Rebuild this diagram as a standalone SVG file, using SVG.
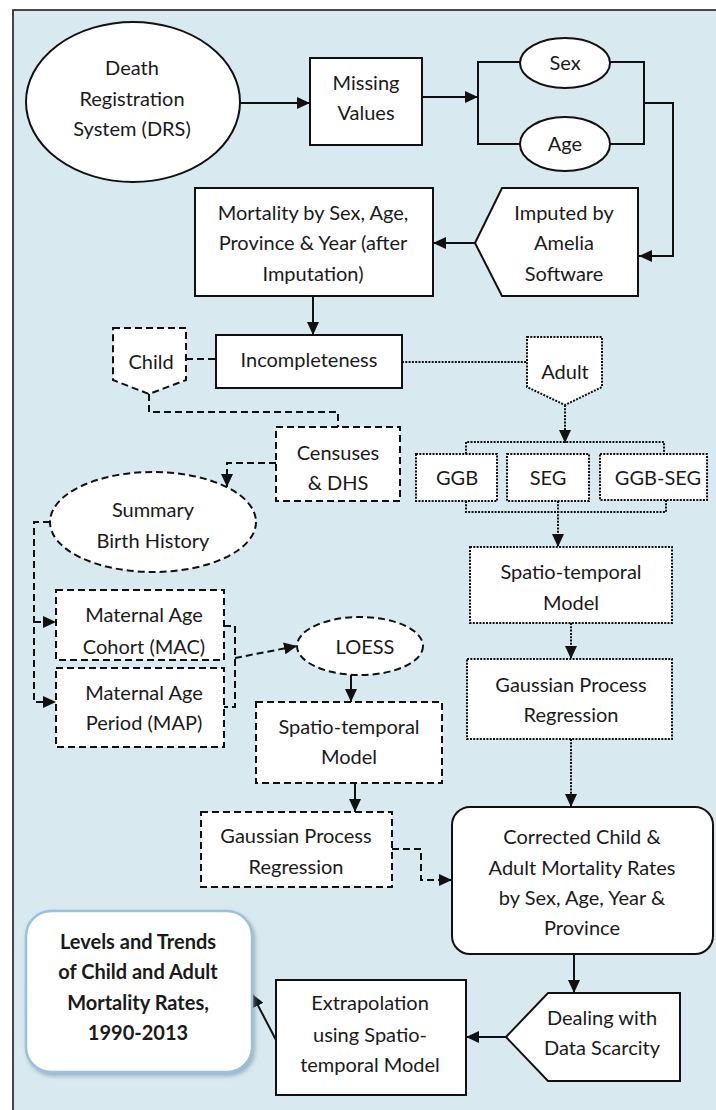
<svg xmlns="http://www.w3.org/2000/svg" width="716" height="1110" viewBox="0 0 716 1110">
<defs>
<style>
.bg{fill:#fff}
.frame{fill:#d9e9f0;stroke:#333;stroke-width:1.8}
.n{fill:#fff;stroke:#111;stroke-width:2}
.dash{stroke-dasharray:7,4}
.dot{stroke-dasharray:2,1.3}
.c{fill:none;stroke:#111;stroke-width:2}
text{font-family:Lato,"Liberation Sans",sans-serif;font-size:20px;fill:#1a1a1a;text-anchor:middle}
.b{font-weight:bold}
.lv{fill:#fff;stroke:#9cbfdc;stroke-width:2.5}
</style>
<marker id="ah" markerUnits="userSpaceOnUse" markerWidth="14" markerHeight="12" refX="13" refY="6" orient="auto">
<path d="M0,0 L13,6 L0,12 Z" fill="#111" stroke="none"/>
</marker>
<filter id="sh" x="-10%" y="-10%" width="130%" height="130%">
<feDropShadow dx="2" dy="3" stdDeviation="2" flood-color="#6f8fa8" flood-opacity="0.6"/>
</filter>
</defs>
<rect class="bg" x="0" y="0" width="716" height="1110"/>
<rect class="frame" x="13" y="10" width="730" height="1120"/>

<g id="connectors">
<line class="c" x1="240" y1="103" x2="310" y2="103" marker-end="url(#ah)"/>
<line class="c" x1="422" y1="97" x2="478" y2="97" marker-end="url(#ah)"/>
<path class="c" d="M520,62 H478 V144 H520"/>
<path class="c" d="M610,62 H644 V144 H610"/>
<path class="c" d="M644,103 H673 V256 H639" marker-end="url(#ah)"/>
<line class="c" x1="475" y1="243" x2="433" y2="243" marker-end="url(#ah)"/>
<line class="c" x1="313" y1="296" x2="313" y2="335" marker-end="url(#ah)"/>
<line class="c dash" x1="186" y1="359" x2="216" y2="359"/>
<line class="c dot" x1="402" y1="362" x2="527" y2="362"/>
<path class="c dash" d="M149,394 V412 H338 V427"/>
<path class="c dash" d="M276,463 H227 V487" marker-end="url(#ah)"/>
<line class="c dot" x1="565" y1="405" x2="565" y2="443" marker-end="url(#ah)"/>
<path class="c dot" d="M466,454 V442 H664 V454"/>
<path class="c dot" d="M466,501 V512 H666 V500"/>
<line class="c dot" x1="558" y1="501" x2="558" y2="547" marker-end="url(#ah)"/>
<line class="c dot" x1="571" y1="623" x2="571" y2="659" marker-end="url(#ah)"/>
<line class="c dot" x1="571" y1="739" x2="571" y2="807" marker-end="url(#ah)"/>
<path class="c dash" d="M50,522 H34 V702 H56" marker-end="url(#ah)"/>
<line class="c dash" x1="34" y1="622" x2="56" y2="622" marker-end="url(#ah)"/>
<path class="c dash" d="M224,626 H235 V707 H224"/>
<line class="c dash" x1="235" y1="658" x2="297" y2="646" marker-end="url(#ah)"/>
<line class="c" x1="351" y1="675" x2="351" y2="702" marker-end="url(#ah)"/>
<line class="c" x1="355" y1="783" x2="355" y2="812" marker-end="url(#ah)"/>
<path class="c dash" d="M392,849 H421 V880 H452" marker-end="url(#ah)"/>
<line class="c" x1="574" y1="954" x2="574" y2="993" marker-end="url(#ah)"/>
<line class="c" x1="506" y1="1037" x2="466" y2="1037" marker-end="url(#ah)"/>
<line class="c" x1="276" y1="1040" x2="252" y2="994" marker-end="url(#ah)"/>
</g>

<g id="drs"><ellipse class="n" cx="133" cy="102" rx="107" ry="80"/>
<text x="132" y="75">Death</text><text x="132" y="106">Registration</text><text x="132" y="136">System (DRS)</text></g>
<g id="missing"><rect class="n" x="310" y="58" width="112" height="87"/>
<text x="366" y="90">Missing</text><text x="366" y="120">Values</text></g>
<g id="sex"><ellipse class="n" cx="565" cy="63" rx="45" ry="25"/><text x="565" y="70">Sex</text></g>
<g id="age"><ellipse class="n" cx="565" cy="144" rx="45" ry="27"/><text x="565" y="151">Age</text></g>
<g id="imputed"><polygon class="n" points="502,188 638,188 638,296 502,296 475,243"/>
<text x="564" y="220">Imputed by</text><text x="564" y="250">Amelia</text><text x="564" y="281">Software</text></g>
<g id="mortality"><rect class="n" x="195" y="188" width="238" height="108"/>
<text x="313" y="220">Mortality by Sex, Age,</text><text x="313" y="250">Province &amp; Year (after</text><text x="313" y="281">Imputation)</text></g>
<g id="incompleteness"><rect class="n" x="216" y="335" width="186" height="53"/><text x="309" y="367">Incompleteness</text></g>
<g id="child"><polygon class="n dash" points="113,328 186,328 186,380 149,394 113,380"/><text x="151" y="369">Child</text></g>
<g id="adult"><polygon class="n dot" points="527,337 602,337 602,387 565,405 527,387"/><text x="565" y="379">Adult</text></g>
<g id="censuses"><rect class="n dash" x="276" y="427" width="124" height="74"/>
<text x="338" y="460">Censuses</text><text x="338" y="490">&amp; DHS</text></g>
<g id="summary"><ellipse class="n dash" cx="153" cy="522" rx="103" ry="50"/>
<text x="153" y="517">Summary</text><text x="153" y="548">Birth History</text></g>
<g id="ggb"><rect class="n dot" x="416" y="454" width="81" height="47"/><text x="457" y="485">GGB</text></g>
<g id="seg"><rect class="n dot" x="507" y="454" width="82" height="47"/><text x="548" y="485">SEG</text></g>
<g id="ggbseg"><rect class="n dot" x="600" y="454" width="107" height="46"/><text x="658" y="485">GGB-SEG</text></g>
<g id="spatio-adult"><rect class="n dot" x="470" y="547" width="202" height="76"/>
<text x="571" y="579">Spatio-temporal</text><text x="571" y="610">Model</text></g>
<g id="gpr-adult"><rect class="n dot" x="467" y="659" width="205" height="80"/>
<text x="571" y="692">Gaussian Process</text><text x="571" y="722">Regression</text></g>
<g id="mac"><rect class="n dash" x="56" y="590" width="168" height="70"/>
<text x="144" y="622">Maternal Age</text><text x="144" y="654">Cohort (MAC)</text></g>
<g id="map"><rect class="n dash" x="56" y="668" width="168" height="79"/>
<text x="144" y="700">Maternal Age</text><text x="144" y="730">Period (MAP)</text></g>
<g id="loess"><ellipse class="n dash" cx="360" cy="646" rx="63" ry="29"/><text x="365" y="654">LOESS</text></g>
<g id="spatio-child"><rect class="n dash" x="256" y="702" width="186" height="81"/>
<text x="349" y="734">Spatio-temporal</text><text x="349" y="764">Model</text></g>
<g id="gpr-child"><rect class="n dash" x="201" y="812" width="191" height="75"/>
<text x="296" y="843">Gaussian Process</text><text x="296" y="874">Regression</text></g>
<g id="corrected"><rect class="n" x="452" y="807" width="261" height="147" rx="18"/>
<text x="582" y="844">Corrected Child &amp;</text><text x="582" y="875">Adult Mortality Rates</text><text x="582" y="905">by Sex, Age, Year &amp;</text><text x="582" y="935">Province</text></g>
<g id="dealing"><polygon class="n" points="548,993 680,993 680,1081 548,1081 506,1037"/>
<text x="602" y="1025">Dealing with</text><text x="602" y="1055">Data Scarcity</text></g>
<g id="extrapolation"><rect class="n" x="276" y="980" width="190" height="115"/>
<text x="370" y="1010">Extrapolation</text><text x="370" y="1042">using Spatio-</text><text x="370" y="1072">temporal Model</text></g>
<g id="levels"><rect class="lv" x="26" y="911" width="226" height="161" rx="25" filter="url(#sh)"/>
<text class="b" x="138" y="949">Levels and Trends</text><text class="b" x="138" y="979">of Child and Adult</text><text class="b" x="138" y="1010">Mortality Rates,</text><text class="b" x="138" y="1040">1990-2013</text></g>
</svg>
